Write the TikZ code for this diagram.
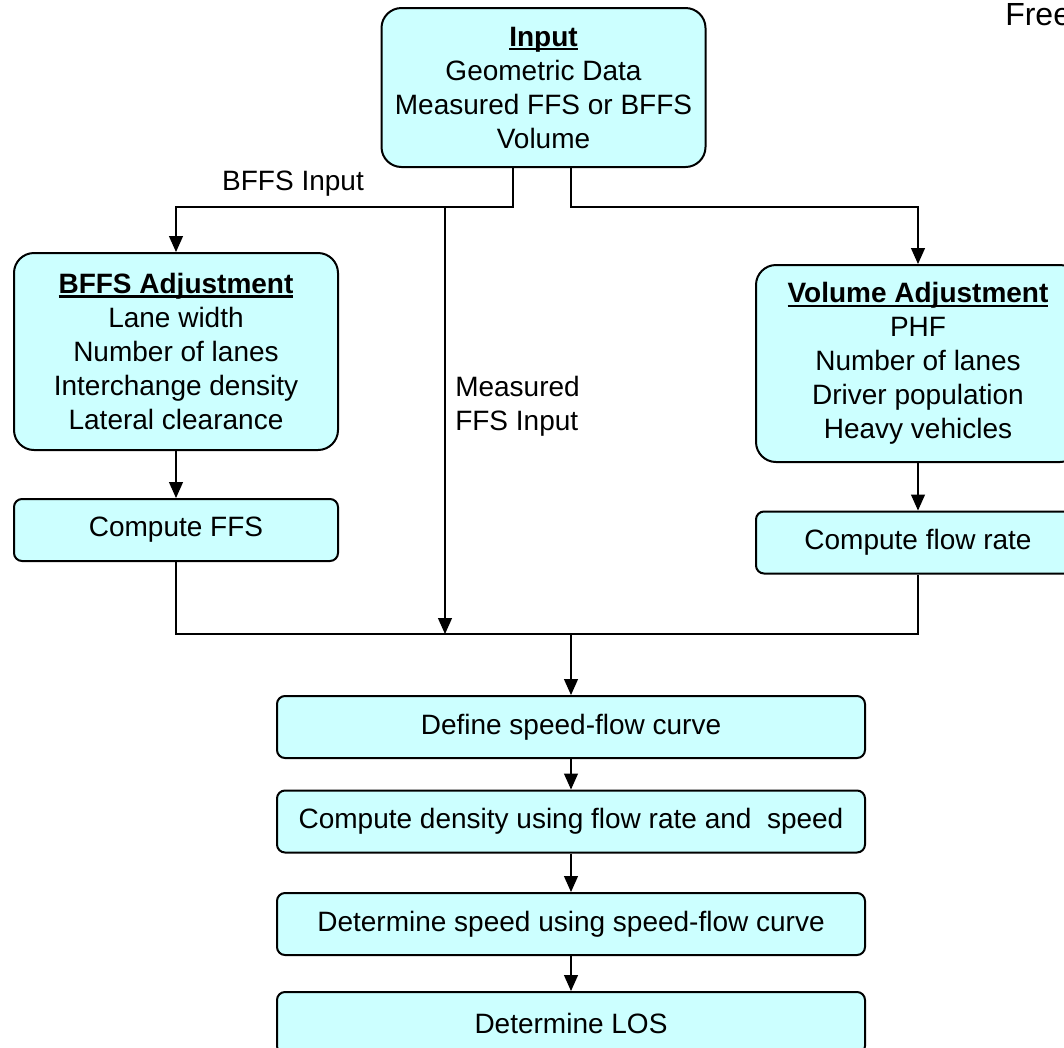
\documentclass[tikz,border=0pt]{standalone}
\usepackage{fontspec}
\setmainfont{Liberation Sans}
\usetikzlibrary{arrows.meta}

\definecolor{boxcyan}{HTML}{CCFFFF}
\newcommand{\ulbold}[1]{\setbox0\hbox{\bfseries #1}\rlap{\vrule width\wd0 height -1.4pt depth 3.2pt}\box0}

\tikzset{
  flowbox/.style={draw, line width=1.5pt, fill=boxcyan, rounded corners=6pt, align=center, inner sep=0pt},
  bigbox/.style={flowbox, rounded corners=15pt, minimum width=243pt},
  stepbox/.style={flowbox, minimum height=46.5pt},
  link/.style={line width=0.9pt},
  arr/.style={link, -{Triangle[length=12pt,width=10.5pt]}},
}

\begin{document}
\begin{tikzpicture}[x=0.75pt, y=-0.75pt, every node/.style={font=\fontsize{21}{25.5}\selectfont}]
\useasboundingbox (0,0) rectangle (1064,1047);

\node[anchor=base west, inner sep=0pt, font=\fontsize{24}{28}\selectfont] (title) at (1005,25) {Free};

% input and adjustments
\node[bigbox, minimum height=119.25pt] (input) at (543.5,87.5) {\ulbold{Input}\\Geometric Data\\Measured FFS or BFFS\\Volume};
\node[bigbox, minimum height=147.75pt] (bffs) at (176,351.5) {\ulbold{BFFS Adjustment}\\Lane width\\Number of lanes\\Interchange density\\Lateral clearance};
\node[bigbox, minimum height=147.75pt] (vol) at (918,363.5) {\ulbold{Volume Adjustment}\\PHF\\Number of lanes\\Driver population\\Heavy vehicles};
\node[stepbox, minimum width=243pt] (cffs) at (176,530) {Compute FFS};
\node[stepbox, minimum width=243pt] (cflow) at (918,542.5) {Compute flow rate};

% steps
\node[stepbox, minimum width=441pt] (define) at (571,727) {Define speed-flow curve};
\node[stepbox, minimum width=441pt] (density) at (571,821.5) {Compute density using flow rate and \ speed};
\node[stepbox, minimum width=441pt] (speed) at (571,924) {Determine speed using speed-flow curve};
\node[stepbox, minimum width=441pt] (los) at (571,1023) {Determine LOS};

\node (bffsin) at (293,184) {BFFS Input};
\node[anchor=west, align=left, inner sep=0pt] (measin) at (455,406) {Measured\\FFS Input};

\coordinate (fork) at (513,207);
\coordinate (forkr) at (571,207);
\coordinate (tap) at (445,207);
\coordinate (joinm) at (445,634);
\coordinate (join) at (571,634);

\draw[arr] (input.south -| fork) -- (fork) -| (bffs.north);
\draw[arr] (tap) -- (joinm);
\draw[arr] (input.south -| forkr) -- (forkr) -| (vol.north);
\draw[arr] (bffs) -- (cffs);
\draw[arr] (vol) -- (cflow);
\draw[link] (cffs.south) |- (join) -| (cflow.south);
\draw[arr] (join) -- (define);
\draw[arr] (define) -- (density);
\draw[arr] (density) -- (speed);
\draw[arr] (speed) -- (los);
\end{tikzpicture}
\end{document}
